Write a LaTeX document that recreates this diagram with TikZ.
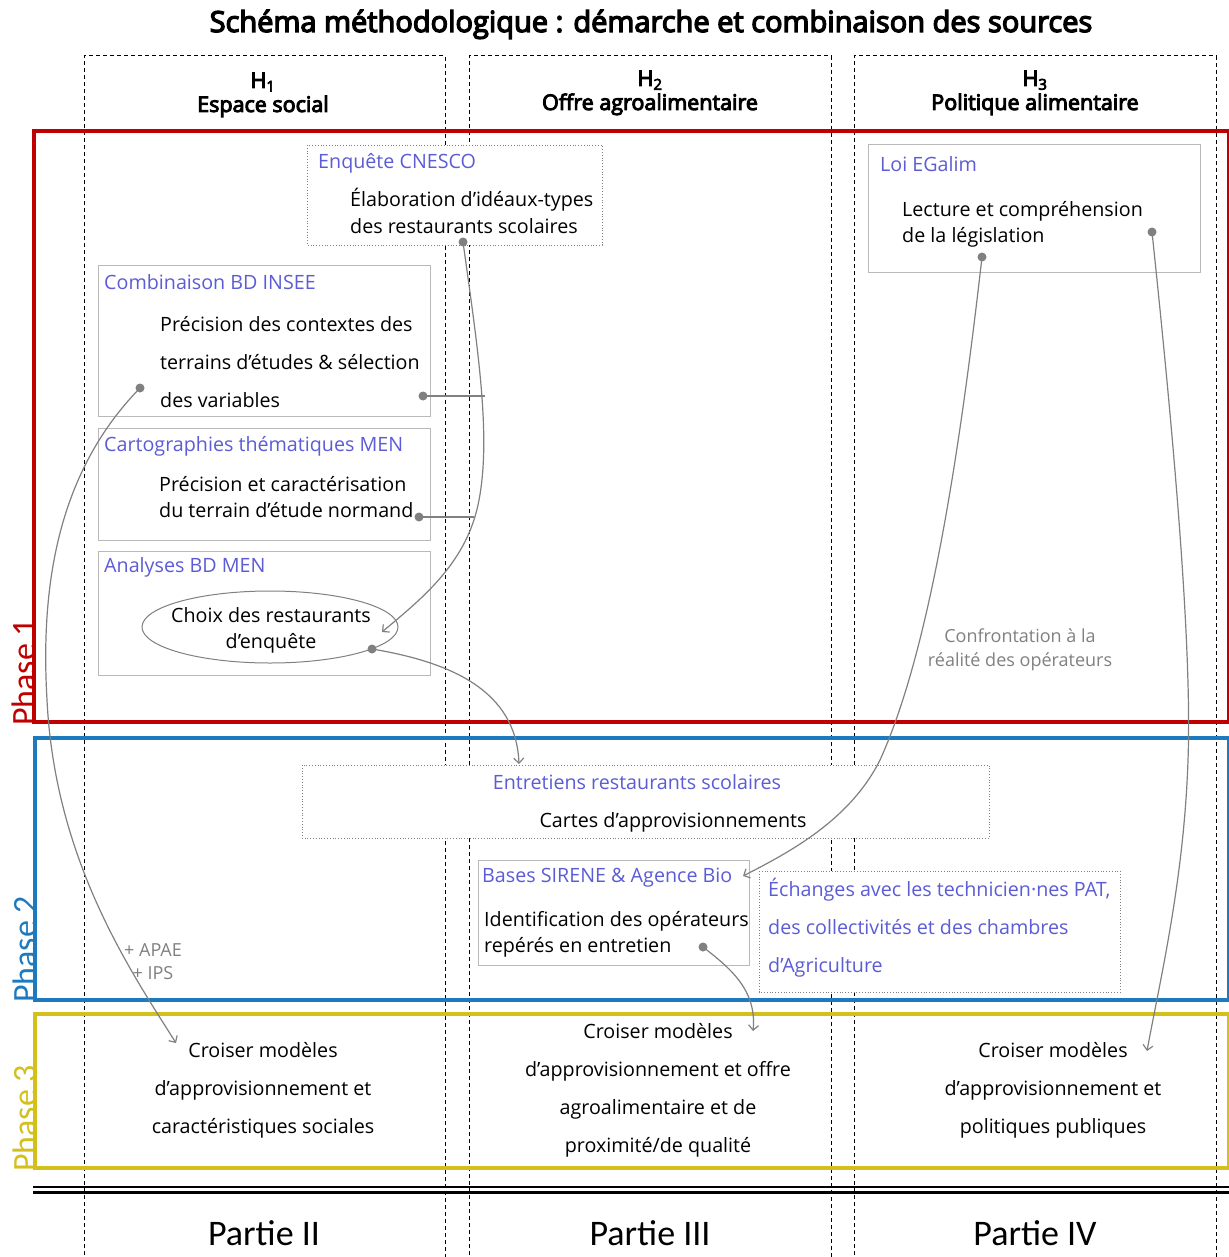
\documentclass[tikz,border=0pt]{standalone}
\usepackage{fontspec}
\setmainfont{Open Sans}
\newfontfamily\hdfont{Open Sans}[FakeBold=4.5]
\newfontfamily\calfont{Carlito}
\usetikzlibrary{arrows.meta}
\definecolor{phred}{RGB}{192,0,0}
\definecolor{phblue}{RGB}{30,122,190}
\definecolor{phyel}{RGB}{212,192,26}
\definecolor{srcblue}{RGB}{92,92,214}
\definecolor{conn}{RGB}{128,128,128}
\definecolor{boxgrey}{RGB}{185,185,185}
\newcommand\Lleft[2]{\vtop{\baselineskip=#1\lineskiplimit=-100pt\halign{##\hfil\cr#2\crcr}}}
\newcommand\Lcent[2]{\vtop{\baselineskip=#1\lineskiplimit=-100pt\halign{\hfil##\hfil\cr#2\crcr}}}
\begin{document}
\begin{tikzpicture}[x=1pt,y=-1pt,
  colbox/.style={draw=black,dash pattern=on 4pt off 3pt,line width=1pt},
  phasebox/.style={line width=4pt},
  phaselab/.style={rotate=90,anchor=south west,inner sep=0pt,font=\calfont\fontsize{34}{34}\selectfont},
  srcbox/.style={draw=boxgrey,fill=white,line width=1pt},
  dotbox/.style={draw=conn,fill=white,dotted,line width=0.8pt},
  txt/.style={inner sep=0pt,anchor=base west,font=\fontsize{19.7}{24}\selectfont},
  ctxt/.style={inner sep=0pt,anchor=base,font=\fontsize{19.7}{24}\selectfont},
  src/.style={txt,text=srcblue},
  note/.style={inner sep=0pt,anchor=base,font=\fontsize{18}{22}\selectfont,text=conn},
  head/.style={inner sep=0pt,anchor=base,font=\hdfont\fontsize{21.5}{24}\selectfont},
  partie/.style={inner sep=0pt,anchor=base,font=\calfont\fontsize{36}{40}\selectfont},
  link/.style={draw=conn,line width=1.2pt},
  arr/.style={link,-{Straight Barb[length=5pt,width=10pt]}},
  dotc/.style={fill=conn,draw=none}
]
\useasboundingbox (0,0) rectangle (1228,1257);

% title
\node[inner sep=0pt,anchor=base,font=\hdfont\fontsize{29}{32}\selectfont] (title) at (651,32) {Schéma méthodologique : démarche et combinaison des sources};

% column boxes
\draw[colbox] (84,1262) -- (84,56) -- (445,56) -- (445,1262);
\draw[colbox] (469,1262) -- (469,56) -- (831,56) -- (831,1262);
\draw[colbox] (854,1262) -- (854,56) -- (1216,56) -- (1216,1262);

\node[head] (h1) at (263,88) {H\textsubscript{1}};
\node[head] (h1t) at (263,112) {Espace social};
\node[head] (h2) at (650,86) {H\textsubscript{2}};
\node[head] (h2t) at (650,110) {Offre agroalimentaire};
\node[head] (h3) at (1035,86) {H\textsubscript{3}};
\node[head] (h3t) at (1035,110) {Politique alimentaire};

% phase labels (under the frames)
\node[phaselab,text=phred] (p1) at (36,726) {Phase 1};
\node[phaselab,text=phblue] (p2) at (37,1003) {Phase 2};
\node[phaselab,text=phyel] (p3) at (37,1172) {Phase 3};

% phases
\draw[phasebox,draw=phred] (34,131) rectangle (1229,722);
\draw[phasebox,draw=phblue] (35,738) rectangle (1229,1000);
\draw[phasebox,draw=phyel] (35,1014) rectangle (1229,1168);

% double rule
\draw[line width=2.5pt] (33,1187) -- (1229,1187);
\draw[line width=2.5pt] (33,1192.5) -- (1229,1192.5);

\node[partie] (pa2) at (264,1245) {Partie II};
\node[partie] (pa3) at (650,1245) {Partie III};
\node[partie] (pa4) at (1035,1245) {Partie IV};

% ---------- Phase 1 boxes
\draw[dotbox] (307,145) rectangle (602,245);
\node[src] (cnescoT) at (318,169) {Enquête CNESCO};
\node[txt] (cnescoB) at (350,207) {\Lleft{27pt}{Élaboration d’idéaux-types\cr des restaurants scolaires}};

\draw[srcbox] (98,265) rectangle (430,416);
\node[src] (inseeT) at (104,289) {Combinaison BD INSEE};
\node[txt] (inseeB) at (160,331) {\Lleft{38pt}{Précision des contextes des\cr terrains d’études \& sélection\cr des variables}};

\draw[srcbox] (98,428) rectangle (430,540);
\node[src] (cartoT) at (104,451) {Cartographies thématiques MEN};
\node[txt] (cartoB) at (159,491) {\Lleft{26pt}{Précision et caractérisation\cr du terrain d’étude normand}};

\draw[srcbox] (98,551) rectangle (430,675);
\node[src] (menT) at (104,572) {Analyses BD MEN};
\draw[draw=conn,line width=1pt] (270,627) ellipse [x radius=128, y radius=36];
\node[ctxt] (choix) at (271,622) {\Lcent{26pt}{Choix des restaurants\cr d’enquête}};

\draw[srcbox] (868,145) rectangle (1200,272);
\node[src] (egalimT) at (880,172) {Loi EGalim};
\node[txt] (egalimB) at (902,217) {\Lleft{26pt}{Lecture et compréhension\cr de la législation}};

\node[note] (confr) at (1020,642) {\Lcent{24pt}{Confrontation à la\cr réalité des opérateurs}};

% ---------- Phase 2 boxes
\draw[dotbox] (302,765) rectangle (989,838);
\node[ctxt,text=srcblue] (entT) at (637,789) {Entretiens restaurants scolaires};
\node[ctxt] (entB) at (673,827) {Cartes d’approvisionnements};

\draw[srcbox] (478,860) rectangle (749,965);
\node[src] (sireneT) at (482,882) {Bases SIRENE \& Agence Bio};
\node[txt] (sireneB) at (484,926) {\Lleft{26pt}{Identification des opérateurs\cr repérés en entretien}};

\draw[dotbox] (759,871) rectangle (1120,992);
\node[src] (echT) at (768,896) {\Lleft{38pt}{Échanges avec les technicien·nes PAT,\cr des collectivités et des chambres\cr d’Agriculture}};

\node[note] (apae) at (153,956) {\Lcent{23pt}{+ APAE\cr + IPS}};

% ---------- Phase 3 texts
\node[ctxt] (c1) at (263,1057) {\Lcent{38pt}{Croiser modèles\cr d’approvisionnement et\cr caractéristiques sociales}};
\node[ctxt] (c2) at (658,1038) {\Lcent{38pt}{Croiser modèles\cr d’approvisionnement et offre\cr agroalimentaire et de\cr proximité/de qualité}};
\node[ctxt] (c3) at (1053,1057) {\Lcent{38pt}{Croiser modèles\cr d’approvisionnement et\cr politiques publiques}};

% ---------- connectors
\coordinate (dCnesco) at (463,242);
\coordinate (dInseeR) at (423,396);
\coordinate (jInsee) at (484.5,396);
\coordinate (dCarto) at (419,517);
\coordinate (jCarto) at (474,517);
\coordinate (aChoix) at (382,632);
\coordinate (dChoix) at (372,649);
\coordinate (aEnt) at (519,764);
\coordinate (dInseeL) at (140,388);
\coordinate (aC1) at (176,1043);
\coordinate (dEgalimL) at (982,257);
\coordinate (aSirene) at (743,876);
\coordinate (dEgalimR) at (1152,232);
\coordinate (aC3) at (1147,1051);
\coordinate (dSirene) at (703,947);
\coordinate (aC2) at (753,1031);

\draw[arr] (dCnesco) .. controls (478,350) and (492,440) .. (478,505) .. controls (465,565) and (420,600) .. (aChoix);
\draw[link] (dInseeR) -- (jInsee);
\draw[link] (dCarto) -- (jCarto);
\draw[arr] (dChoix) .. controls (450,662) and (516,690) .. (aEnt);
\draw[arr] (dInseeL) .. controls (60,470) and (40,580) .. (47,700) .. controls (55,860) and (130,970) .. (aC1);
\draw[arr] (dEgalimL) .. controls (960,450) and (930,650) .. (880,760) .. controls (850,820) and (790,852) .. (aSirene);
\draw[arr] (dEgalimR) .. controls (1175,450) and (1192,650) .. (1188,760) .. controls (1184,880) and (1160,980) .. (aC3);
\draw[arr] (dSirene) .. controls (730,968) and (757,990) .. (aC2);

\foreach \d in {dCnesco,dInseeR,dCarto,dChoix,dInseeL,dEgalimL,dEgalimR,dSirene}
  \fill[dotc] (\d) circle (4.5pt);
\end{tikzpicture}
\end{document}
